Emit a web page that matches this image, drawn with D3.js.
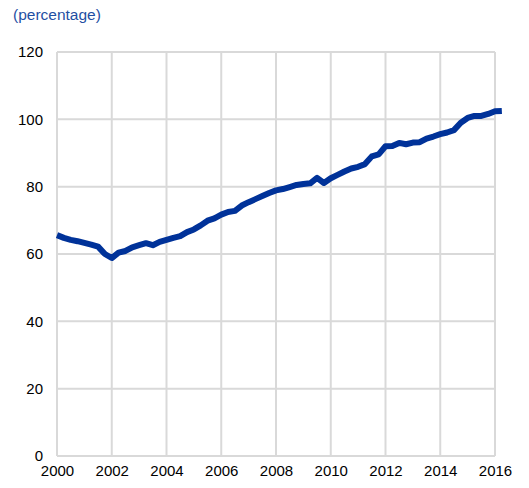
<!DOCTYPE html>
<html>
<head>
<meta charset="utf-8">
<script src="https://cdn.jsdelivr.net/npm/d3@7"></script>
<style>
  body { margin: 0; background: #fff; }
  text { font-family: "Liberation Sans", Arial, sans-serif; }
</style>
</head>
<body>
<script>
// quarterly observations, 2000 Q1 onwards
const startYear = 2000;
const values = [
  65.6, 64.8, 64.2, 63.8, 63.3, 62.8, 62.2, 60.0,
  58.8, 60.4, 60.9, 62.0, 62.6, 63.2, 62.6, 63.6,
  64.2, 64.8, 65.3, 66.5, 67.3, 68.5, 69.9, 70.6,
  71.7, 72.5, 72.8, 74.4, 75.4, 76.3, 77.2, 78.1,
  78.9, 79.3, 79.9, 80.5, 80.8, 81.0, 82.6, 81.1,
  82.5, 83.5, 84.5, 85.4, 85.9, 86.7, 89.0, 89.6,
  92.0, 92.1, 93.0, 92.6, 93.1, 93.2, 94.3, 94.9,
  95.6, 96.1, 96.8, 99.0, 100.4, 101.0, 101.0, 101.6,
  102.4, 102.5
];
const xTicks = [2000, 2002, 2004, 2006, 2008, 2010, 2012, 2014, 2016];
const yTicks = [0, 20, 40, 60, 80, 100, 120];

const width = 529, height = 488;
const margin = { top: 52, right: 34, bottom: 32, left: 57 };

const svg = d3.select('body').append('svg')
    .attr('width', width)
    .attr('height', height);

const x = d3.scaleLinear()
    .domain([2000, 2016])
    .range([margin.left, width - margin.right]);

const y = d3.scaleLinear()
    .domain([0, 120])
    .range([height - margin.bottom, margin.top]);

// grid
svg.append('g')
    .selectAll('line')
    .data(yTicks)
    .join('line')
        .attr('x1', x(2000))
        .attr('x2', x(2016))
        .attr('y1', d => y(d))
        .attr('y2', d => y(d))
        .attr('stroke', '#d9d9d9')
        .attr('stroke-width', 2);

svg.append('g')
    .selectAll('line')
    .data(xTicks)
    .join('line')
        .attr('x1', d => x(d))
        .attr('x2', d => x(d))
        .attr('y1', y(0))
        .attr('y2', y(120))
        .attr('stroke', '#d9d9d9')
        .attr('stroke-width', 2);

// axes (labels only)
const yAxis = svg.append('g')
    .attr('transform', `translate(${margin.left - 14},0)`)
    .call(d3.axisLeft(y).tickValues(yTicks).tickSize(0).tickPadding(0));
yAxis.select('.domain').remove();
yAxis.selectAll('text')
    .attr('font-size', 15)
    .attr('fill', '#000');

const xAxis = svg.append('g')
    .attr('transform', `translate(0,${y(0) + 5})`)
    .call(d3.axisBottom(x).tickValues(xTicks).tickFormat(d3.format('d')).tickSize(0).tickPadding(4));
xAxis.select('.domain').remove();
xAxis.selectAll('text')
    .attr('font-size', 15)
    .attr('fill', '#000');

// series
const line = d3.line()
    .x((d, i) => x(startYear + i / 4))
    .y(d => y(d));

svg.append('path')
    .datum(values)
    .attr('fill', 'none')
    .attr('stroke', '#003299')
    .attr('stroke-width', 6)
    .attr('stroke-linejoin', 'round')
    .attr('d', line);

svg.append('text')
    .attr('x', 13)
    .attr('y', 20)
    .attr('font-size', 15.5)
    .attr('fill', '#1f4fa3')
    .text('(percentage)');
</script>
</body>
</html>
